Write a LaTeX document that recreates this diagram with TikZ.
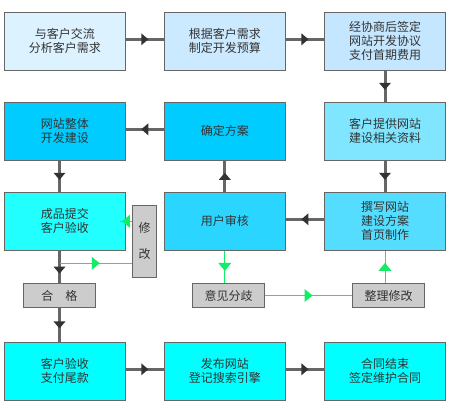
\documentclass[tikz,border=0pt]{standalone}
\usepackage{fontspec}
\setmainfont{Noto Sans CJK SC}
\usetikzlibrary{calc,decorations.markings}

\definecolor{linegray}{HTML}{666666}
\definecolor{tipgray}{HTML}{333333}
\definecolor{txtgray}{HTML}{333333}
\definecolor{taggray}{HTML}{CCCCCC}
\definecolor{fixgreen}{HTML}{11EE66}
\definecolor{fillA}{HTML}{DDF2FF}
\definecolor{fillB}{HTML}{CCEAFF}
\definecolor{fillC}{HTML}{C4E6FF}
\definecolor{fillD}{HTML}{00CCFF}
\definecolor{fillE}{HTML}{80E6FF}
\definecolor{fillF}{HTML}{22FFFF}
\definecolor{fillG}{HTML}{2AD5FF}
\definecolor{fillH}{HTML}{55DDFF}
\definecolor{fillI}{HTML}{00FFFF}

\tikzset{
  box/.style={draw=linegray, line width=1pt, minimum width=121pt, minimum height=58pt,
    inner sep=0pt, align=center, text=txtgray, font=\fontsize{12pt}{14pt}\selectfont},
  tag/.style={box, fill=taggray, minimum width=72pt, minimum height=24pt},
  flow/.style={draw=linegray, line width=3pt, postaction={decorate},
    decoration={markings, mark=at position #1 with
      {\fill[tipgray] (3.5pt,0) -- (-3.5pt,6pt) -- (-3.5pt,-6pt) -- cycle;}}},
  flow/.default=0.5,
  fix/.style={draw=fixgreen, line width=1pt, postaction={decorate},
    decoration={markings, mark=at position 0.5 with
      {\fill[fixgreen] (4pt,0) -- (-4pt,6.5pt) -- (-4pt,-6.5pt) -- cycle;}}}
}

\begin{document}
\begin{tikzpicture}[x=1pt,y=-1pt]
        % columns and rows of the big boxes
        \pgfmathsetmacro{\colA}{64.8}
        \pgfmathsetmacro{\colB}{224.8}
        \pgfmathsetmacro{\colC}{385}
        \pgfmathsetmacro{\rowA}{41.3}
        \pgfmathsetmacro{\rowB}{131.3}
        \pgfmathsetmacro{\rowC}{221.3}
        \pgfmathsetmacro{\rowD}{371.3}
        \pgfmathsetmacro{\rowTag}{295.5}

        \fill[white] (0,0) rectangle (450,413);
        \useasboundingbox (0,0) rectangle (450,413);

        % first row
        \node[box,fill=fillA] (talk) at (\colA,\rowA) {与客户交流\\分析客户需求};
        \node[box,fill=fillB] (budget) at (\colB,\rowA) {根据客户需求\\制定开发预算};
        \node[box,fill=fillC] (agree) at (\colC,\rowA) {经协商后签定\\网站开发协议\\支付首期费用};
        % second row
        \node[box,fill=fillD] (build) at (\colA,\rowB) {网站整体\\开发建设};
        \node[box,fill=fillD] (confirm) at (\colB,\rowB) {确定方案};
        \node[box,fill=fillE] (material) at (\colC,\rowB) {客户提供网站\\建设相关资料};
        % third row
        \node[box,fill=fillF] (submit) at (\colA,\rowC) {成品提交\\客户验收};
        \node[box,fill=fillG] (review) at (\colB,\rowC) {用户审核};
        \node[box,fill=fillH] (design) at (\colC,\rowC) {撰写网站\\建设方案\\首页制作};
        % last row
        \node[box,fill=fillI] (payment) at (\colA,\rowD) {客户验收\\支付尾款};
        \node[box,fill=fillI] (publish) at (\colB,\rowD) {发布网站\\登记搜索引擎};
        \node[box,fill=fillI] (finish) at (\colC,\rowD) {合同结束\\签定维护合同};
        % small grey boxes
        \node[tag] (pass) at (59.5,\rowTag) {合　格};
        \node[tag] (differ) at (228.5,\rowTag) {意见分歧};
        \node[tag] (revise) at (388.5,\rowTag) {整理修改};
        \node[tag,minimum width=24pt,minimum height=72pt] (modify) at (144.5,241.2) {修\\[12pt]改};

        % main flow
        \draw[flow] ([yshift=2pt]talk.east) -- ([yshift=2pt]budget.west);
        \draw[flow] ([yshift=2pt]budget.east) -- ([yshift=2pt]agree.west);
        \draw[flow] (agree.south) -- (material.north);
        \draw[flow] (material.south) -- (design.north);
        \draw[flow] ([yshift=2pt]design.west) -- ([yshift=2pt]review.east);
        \draw[flow] (review.north) -- (confirm.south);
        \draw[flow] ([yshift=2pt]confirm.west) -- ([yshift=2pt]build.east);
        \draw[flow] (build.south -| pass.north) -- (submit.north -| pass.north);
        \draw[flow=0.6] (submit.south -| pass.north) -- (pass.north);
        \draw[flow] (pass.south) -- (payment.north -| pass.south);
        \draw[flow] ([yshift=2pt]payment.east) -- ([yshift=2pt]publish.west);
        \draw[flow] ([yshift=2pt]publish.east) -- ([yshift=2pt]finish.west);

        % corrections
        \coordinate (tap) at (pass.north |- 0,263.3);
        \coordinate (back) at ([xshift=-6pt]submit.east);
        \draw[fix] (review.south) -- (review.south |- differ.north);
        \draw[fix] (differ.east) -- (revise.west);
        \draw[fix] (design.south |- revise.north) -- (design.south);
        \draw[fix] (tap) -- (tap -| modify.west);
        \draw[fix] (modify.west |- back) -- (back);
    \end{tikzpicture}
\end{document}
